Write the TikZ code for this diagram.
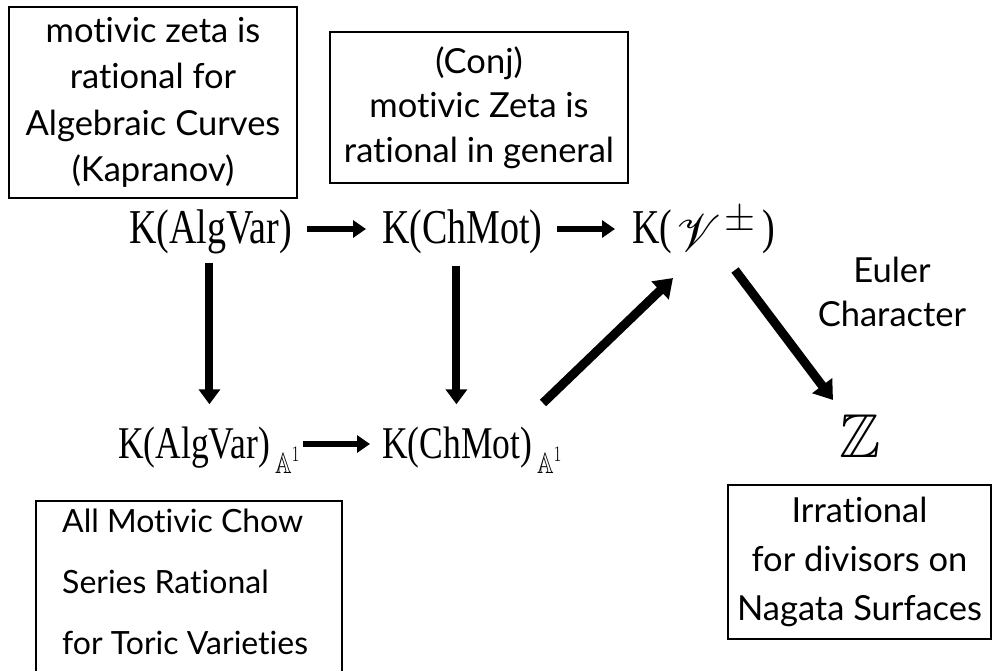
\documentclass[tikz,border=0pt]{standalone}
\usepackage{graphicx}
\usepackage{amssymb}
\usepackage{mathrsfs}
\usepackage{fontspec}
\setmainfont{Lato}[Ligatures={NoCommon,NoContextual}]
\newfontfamily\tms{Liberation Serif}
\usetikzlibrary{arrows.meta,calc}
\tikzset{
  box/.style={draw, line width=2pt, inner sep=0pt, align=center},
  lbl/.style={inner sep=0pt, align=center},
  km/.style={inner sep=0pt, font=\tms\fontsize{38}{40}\selectfont, anchor=base west},
  kb/.style={inner sep=0pt, font=\tms\fontsize{35.5}{40}\selectfont, anchor=base west},
  harr/.style={line width=6.5pt, -{Triangle[length=13pt,width=17pt]}},
  varr/.style={line width=8pt, -{Triangle[length=15pt,width=21pt]}},
  darr/.style={line width=9pt, -{Triangle[length=18pt,width=24pt]}},
}
\newcommand{\tall}[1]{\scalebox{1}[1.28]{#1}}
\newcommand{\aone}{\hspace{5pt}\raisebox{-12pt}{\fontsize{23}{23}\selectfont$\mathbb{A}^{1}$}}
\newcommand{\scrV}{\raisebox{-8pt}{\fontsize{24.88}{26}\selectfont\scalebox{2.0}[2.1]{$\mathscr{V}$}}}
\newcommand{\pmsup}{\raisebox{13pt}{\fontsize{24.88}{26}\selectfont\scalebox{1.6}{$\pm$}}}
\begin{document}
\begin{tikzpicture}[x=1pt,y=-1pt]
\useasboundingbox (0,0) rectangle (994,670);
% text boxes
\node[box, font=\fontsize{34.5}{46.5}\selectfont, minimum width=288pt, minimum height=191pt] (b1) at (153,102.5)
  {motivic zeta is\\rational for\\Algebraic Curves\\(Kapranov)};
\node[box, font=\fontsize{34.5}{44.5}\selectfont, minimum width=298pt, minimum height=151pt] (b2) at (479,107.5)
  {(Conj)\\motivic Zeta is\\rational in general};
% top row
\node[km] (ka) at (129,243) {\tall{K(AlgVar)}};
\node[km] (kc) at (382,243) {\tall{K(ChMot)}};
\node[km] (kv) at (632,243) {\tall{K(}\hspace{4pt}\scrV\hspace{4pt}\pmsup\hspace{7pt}\tall{)}};
% bottom row
\node[kb] (kaa) at (118,458) {\tall{K(AlgVar)\aone}};
\node[kb] (kca) at (382,458) {\tall{K(ChMot)\aone}};
\node[inner sep=0pt, font=\fontsize{62}{64}\selectfont] (z) at (860,436) {$\mathbb{Z}$};
% label
\node[lbl, font=\fontsize{34.5}{44}\selectfont] (eu) at (892,292) {Euler\\Character};
% bottom boxes
\node[inner sep=0pt, anchor=north west, align=left, font=\fontsize{32}{61}\selectfont] (b3) at (62,509)
  {All Motivic Chow\\Series Rational\\for Toric Varieties};
\draw[line width=2pt] (36,672) |- (342,501) -- (342,672);
\node[box, font=\fontsize{34.5}{49}\selectfont, minimum width=263pt, minimum height=154pt] (b4) at (859.5,562)
  {Irrational\\for divisors on\\Nagata Surfaces};
% arrows
\draw[harr] ($(ka.base east)+(15,-14)$) -- ($(kc.base west)+(-16,-14)$);
\draw[harr] ($(kc.base east)+(14,-14)$) -- ($(kv.base west)+(-17,-14)$);
\draw[harr] ($(kaa.base east)+(3,-14)$) -- ($(kca.base west)+(-12,-14)$);
\draw[varr] let \p1=(ka.south), \p2=(kaa.north) in (\x1-1pt,\y1-9pt) -- (\x1-1pt,\y2+22pt);
\draw[varr] let \p1=(kc.south), \p2=(kca.north) in (\x1-6pt,\y1-12pt) -- (\x1-6pt,\y2+22pt);
\draw[darr] ($(kca.base west)+(161,-55)$) -- ($(kv.base west)+(41,35)$);
\draw[darr] ($(kv.base west)+(103,27)$) -- ($(z.center)+(-27,-36)$);
\end{tikzpicture}
\end{document}
